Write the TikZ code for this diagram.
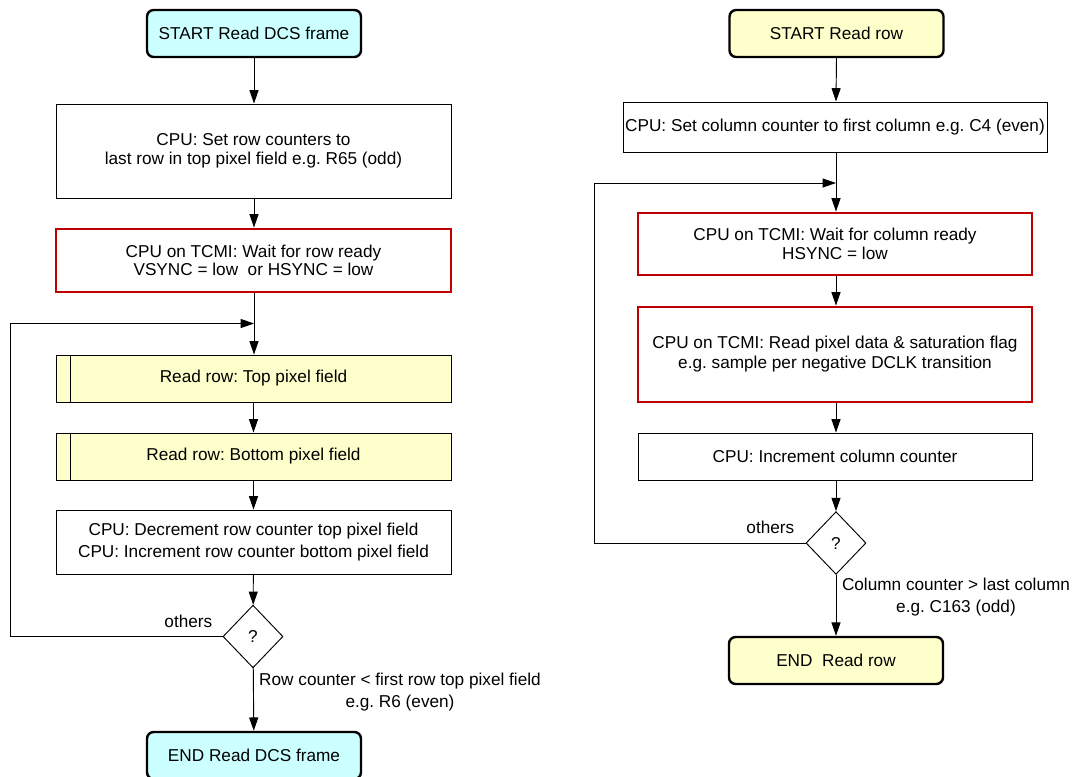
\documentclass[tikz,border=0pt]{standalone}
\usepackage{fontspec}
\setmainfont{Liberation Sans}
\usepackage{tikz}
\usetikzlibrary{arrows.meta,positioning,calc,shapes.geometric}
\definecolor{startcyan}{HTML}{CCFFFF}
\definecolor{startyellow}{HTML}{FFFFCC}
\definecolor{tcmired}{HTML}{C00000}
\frenchspacing
\tikzset{
  txt/.style={font=\fontsize{12.9}{14}\selectfont, align=center},
  widetxt/.style={font=\fontsize{12.9}{16}\selectfont},
  terminal/.style={txt, draw=black, line width=1.8pt, rounded corners=5pt, minimum width=160.5pt, minimum height=35.25pt, inner sep=2pt},
  procbox/.style={txt, draw=black, line width=0.7pt, inner sep=2pt},
  waitbox/.style={txt, draw=tcmired, line width=2.2pt, inner sep=2pt},
  subproc/.style={txt, draw=black, line width=0.7pt, fill=startyellow, inner sep=2pt,
    path picture={\draw[line width=0.7pt] ([xshift=10.5pt]path picture bounding box.north west) -- ([xshift=10.5pt]path picture bounding box.south west);}},
  decide/.style={txt, draw=black, line width=0.7pt, diamond, minimum width=45pt, minimum height=47pt, inner sep=0pt},
  arrow/.style={-{Triangle[length=10pt,width=6.75pt]}, line width=0.7pt},
  lbl/.style={txt}
}
\begin{document}
\begin{tikzpicture}[x=0.75pt,y=-0.75pt]
\useasboundingbox (0,0) rectangle (1075,776);
% ---- left: read DCS frame ----
\node[terminal, fill=startcyan] (startL) at (254,33.5) {START Read DCS frame};
\node[procbox, minimum width=296.25pt, minimum height=70.5pt] (setrow) at (253.5,151) {CPU: Set row counters to\\last row in top pixel field e.g. R65 (odd)};
\node[waitbox, minimum width=296.25pt, minimum height=47.25pt] (waitrow) at (253.5,260.5) {CPU on TCMI: Wait for row ready\\VSYNC = low\ \ or HSYNC = low};
\coordinate (joinL) at (254,323.5);
\coordinate (loopL) at (10,323.5);
\node[subproc, minimum width=296.25pt, minimum height=35.25pt] (topfield) at (253.5,378.5) {Read row: Top pixel field};
\node[subproc, minimum width=296.25pt, minimum height=35.25pt] (botfield) at (253.5,456.5) {Read row: Bottom pixel field};
\node[procbox, widetxt, minimum width=296.25pt, minimum height=48pt] (decrow) at (253.5,542) {CPU: Decrement row counter top pixel field\\CPU: Increment row counter bottom pixel field};
\node[decide] (decL) at (253,636.5) {?};
\node[terminal, fill=startcyan] (endL) at (254,755.5) {END Read DCS frame};
\draw[arrow] (startL.south) -- (startL.south |- setrow.north);
\draw[arrow] (startL |- setrow.south) -- (startL |- waitrow.north);
\draw[arrow] (startL |- waitrow.south) -- (startL |- topfield.north);
\draw[arrow] (topfield) -- (botfield);
\draw[arrow] (botfield) -- (decrow);
\draw[arrow] (decrow) -- (decL);
\draw[arrow] (decL) -- (endL);
\draw[arrow] (decL.west) -| (loopL) -- (joinL);
\node[lbl, anchor=south east] (othersL) at (217,632) {others};
\node[lbl, widetxt] (exitL) at (400,692) {Row counter < first row top pixel field\\e.g. R6 (even)};
% ---- right: read row ----
\node[terminal, fill=startyellow] (startR) at (836.5,33.5) {START Read row};
\node[procbox, minimum width=318pt, minimum height=37.5pt, inner sep=1pt] (setcol) at (835,127) {CPU: Set column counter to first column e.g. C4 (even)};
\coordinate (joinR) at (836,183);
\coordinate (loopR) at (594,183);
\node[waitbox, minimum width=295.5pt, minimum height=46.5pt] (waitcol) at (835,244) {CPU on TCMI: Wait for column ready\\HSYNC = low};
\node[waitbox, font=\fontsize{12.9}{15}\selectfont, minimum width=295.5pt, minimum height=71.25pt] (readpix) at (835,354.5) {CPU on TCMI: Read pixel data \& saturation flag\\e.g. sample per negative DCLK transition};
\node[procbox, minimum width=295.5pt, minimum height=35.25pt] (inccol) at (835,456.5) {CPU: Increment column counter};
\node[decide] (decR) at (836,543) {?};
\node[terminal, fill=startyellow] (endR) at (836,660.5) {END\ \ Read row};
\draw[arrow] (startR |- startR.south) -- (joinR |- setcol.north);
\draw[arrow] (joinR |- setcol.south) -- (joinR |- waitcol.north);
\draw[arrow] (joinR |- waitcol.south) -- (joinR |- readpix.north);
\draw[arrow] (joinR |- readpix.south) -- (joinR |- inccol.north);
\draw[arrow] (joinR |- inccol.south) -- (decR.north);
\draw[arrow] (decR) -- (endR);
\draw[arrow] (decR.west) -| (loopR) -- (joinR);
\node[lbl, anchor=south east] (othersR) at (799,538) {others};
\node[lbl, widetxt] (exitR) at (956,597) {Column counter > last column\\e.g. C163 (odd)};
\end{tikzpicture}
\end{document}
